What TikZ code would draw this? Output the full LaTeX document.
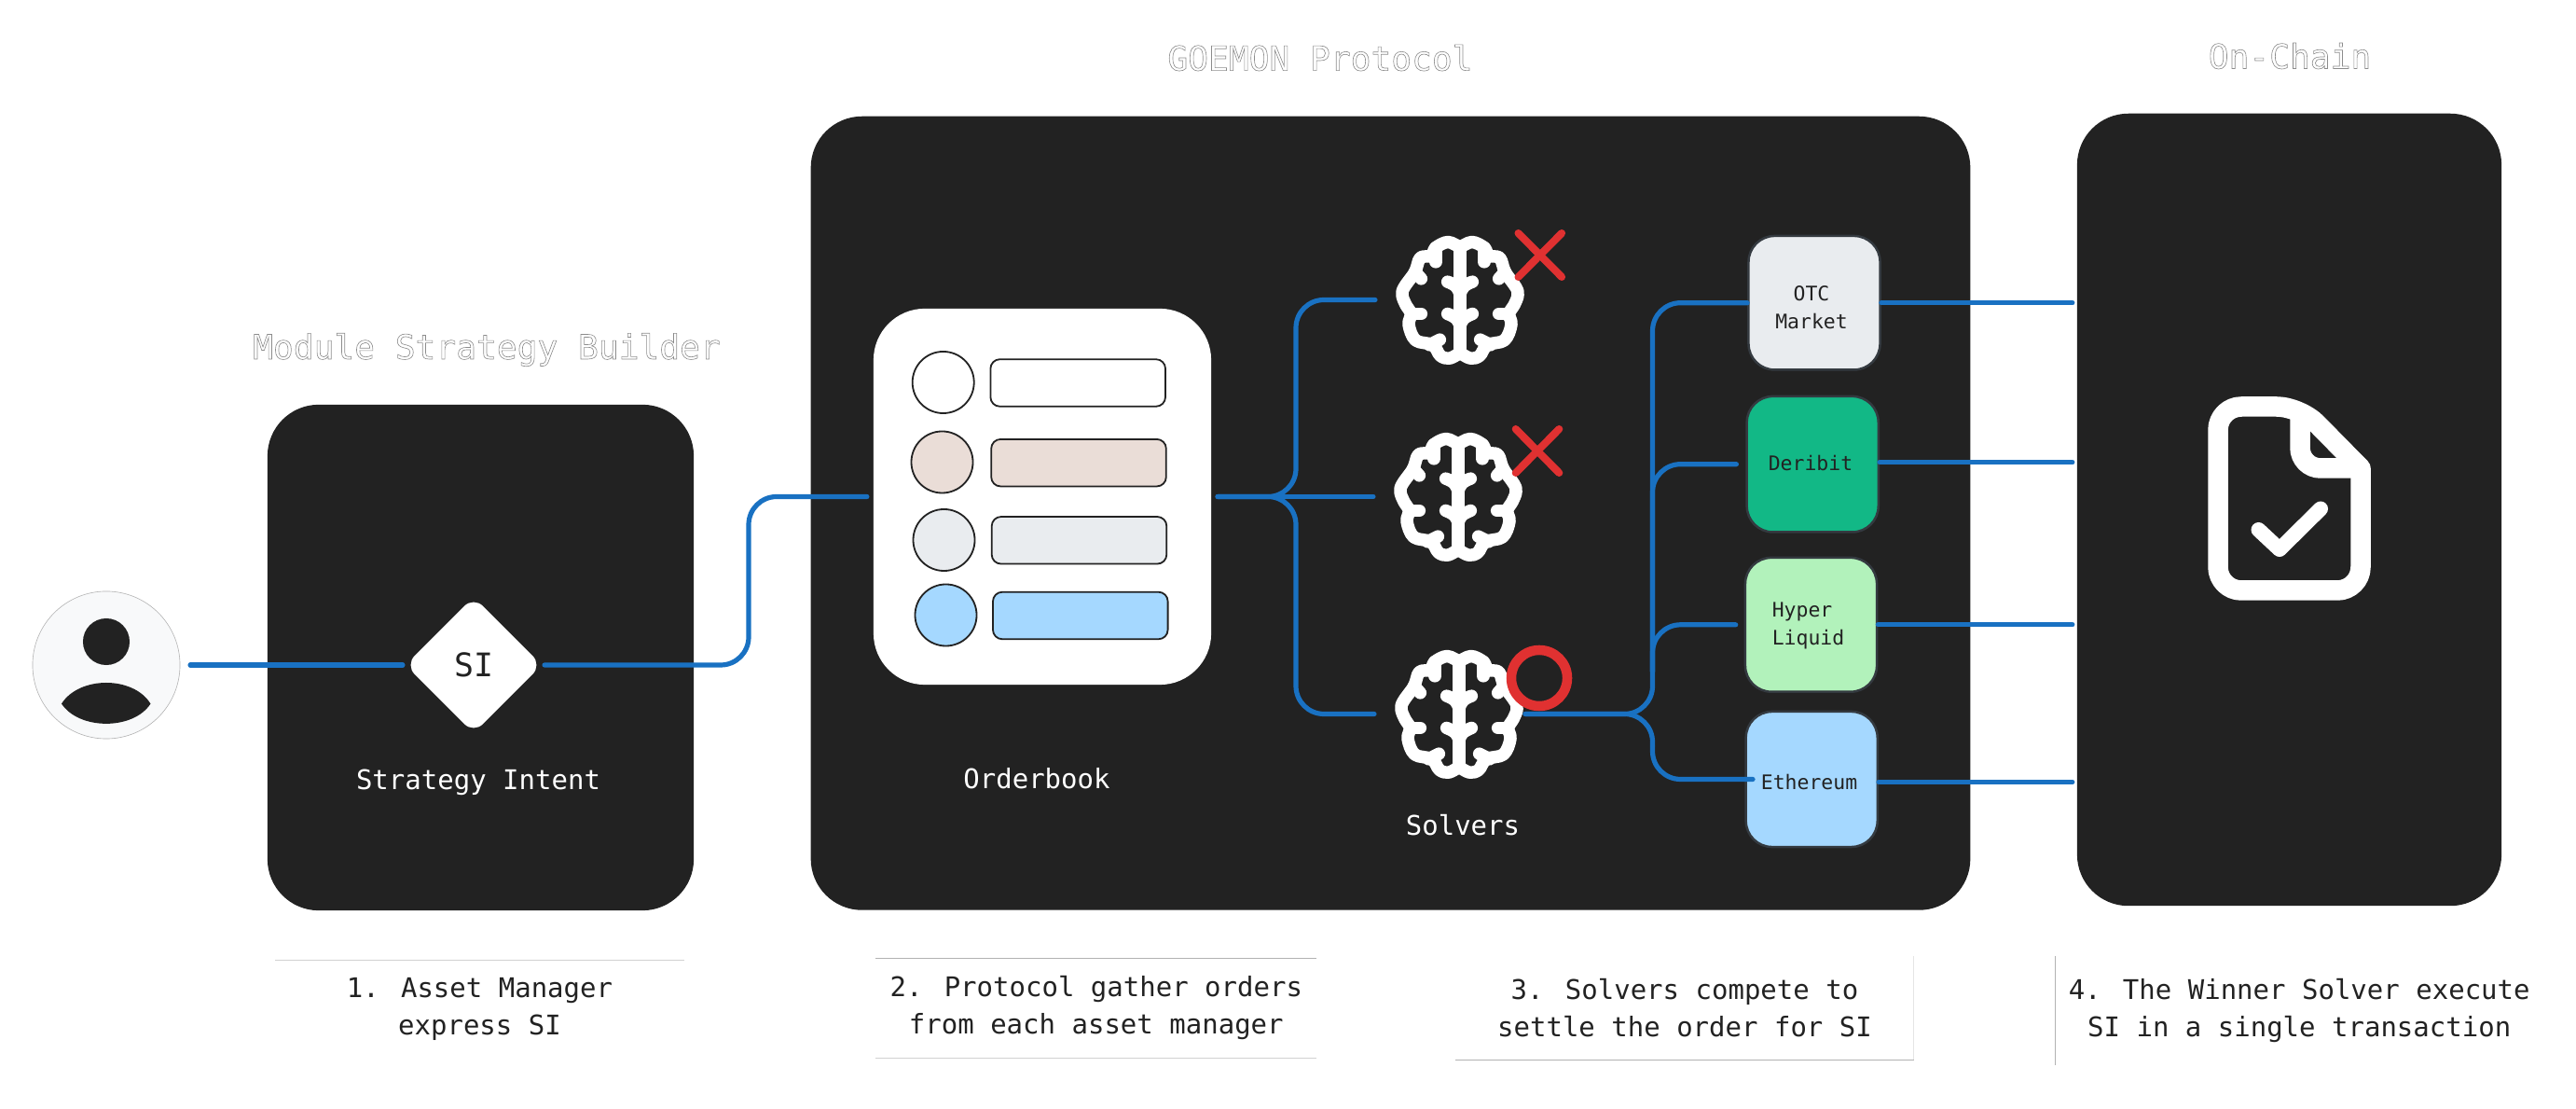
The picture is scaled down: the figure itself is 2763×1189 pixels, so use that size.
\documentclass[tikz,border=0pt]{standalone}
\usepackage{fontspec}
\setmainfont{DejaVu Sans Mono}
\usetikzlibrary{calc}
\usetikzlibrary{positioning, shapes}

\definecolor{inkdark}{HTML}{222222}
\definecolor{wireblue}{HTML}{1971C2}
\definecolor{rejectred}{HTML}{E03131}
\definecolor{venueedge}{HTML}{343A40}
\definecolor{tonerose}{HTML}{EADDD7}
\definecolor{tonegrey}{HTML}{E9ECEF}
\definecolor{tonesky}{HTML}{A5D8FF}
\definecolor{tonegreen}{HTML}{12B886}
\definecolor{tonemint}{HTML}{B2F2BB}
\definecolor{userback}{HTML}{F8F9FA}

\newcommand{\outlinetext}[1]{\special{pdf:code 1 Tr 0.18 w 0.55 G}#1\special{pdf:code 0 Tr}}

\tikzset{
  panel/.style={fill=inkdark,rounded corners=0.55cm,inner sep=0pt},
  wire/.style={draw=wireblue,line width=0.052cm,line cap=round,rounded corners=0.3cm},
  headline/.style={font=\fontsize{10.3}{12}\selectfont,inner sep=0pt},
  paneltext/.style={font=\fontsize{8.25}{10}\selectfont,text=white,inner sep=0pt},
  caption/.style={font=\fontsize{8.25}{11.38}\selectfont,text=inkdark,align=center,inner sep=0pt},
  capline/.style={draw=black!30,line width=0.01cm},
  rowdot/.style={circle,draw=inkdark,line width=0.018cm,minimum size=0.66cm,inner sep=0pt},
  rowbar/.style={draw=inkdark,line width=0.018cm,rounded corners=0.1cm,minimum width=1.875cm,minimum height=0.505cm,inner sep=0pt},
  venue/.style={draw=venueedge,line width=0.025cm,rounded corners=0.28cm,minimum width=1.41cm,inner sep=0pt},
  venuetext/.style={font=\fontsize{6.1}{8.5}\selectfont,text=inkdark,inner sep=0pt},
  solverspot/.style={minimum width=1.38cm,minimum height=1.38cm,inner sep=0pt,outer sep=0.22cm},
  brainline/.style={draw=white,line width=0.135cm,line cap=round,line join=round},
  crossline/.style={draw=rejectred,line width=0.08cm,line cap=round},
  pics/brainicon/.style={code={
    \foreach \flip in {1,-1} {
      \begin{scope}[xscale=\flip*0.3333,yscale=0.3333]
        \draw [brainline] plot [smooth,tension=0.6] coordinates {(0,-168) (-38,-186) (-78,-168) (-93,-142) (-128,-135) (-145,-90) (-180,-40) (-186,-15) (-175,15) (-158,45) (-165,80) (-143,130) (-88,145) (-63,180) (-33,188) (0,170)};
        \draw [brainline] (-78,-168) -- (-78,-122);
        \draw [brainline] (-145,-90) -- (-125,-68);
        \draw [brainline] (0,-10) .. controls (0,-35) and (-15,-50) .. (-40,-58);
        \draw [brainline] (0,92) .. controls (0,65) and (-15,55) .. (-40,45);
        \draw [brainline] (-158,45) -- (-125,45);
        \draw [brainline] (-98,145) -- (-65,128);
      \end{scope}
    }
    \draw [brainline] (0,-56) -- (0,57);
  }},
  pics/crossmark/.style={code={
    \draw [crossline] (-23.3,-23.5) -- (23.3,23.5);
    \draw [crossline] (-23.3,23.5) -- (23.3,-23.5);
  }}
}

\begin{document}
\begin{tikzpicture}[x=0.01cm,y=-0.01cm]
\useasboundingbox (0,0) rectangle (2763,1189);

\node [headline] (titlebuilder) at (522,375) {\outlinetext{Module Strategy Builder}};
\node [headline] (titleprotocol) at (1416,62) {\outlinetext{GOEMON Protocol}};
\node [headline] (titlechain) at (2456,60) {\outlinetext{On-Chain}};

\node [panel,minimum width=4.57cm,minimum height=5.42cm] (builder) at (515.5,705) {};
\node [panel,minimum width=12.43cm,minimum height=8.505cm] (protocol) at (1491.5,550.25) {};
\node [panel,minimum width=4.55cm,minimum height=8.49cm,outer sep=0.05cm] (chain) at (2455.5,546.5) {};

\node [circle,fill=userback,draw=black!30,line width=0.006cm,minimum size=1.58cm,inner sep=0pt,outer sep=0.11cm] (user) at (114,713) {};
\fill [inkdark] (114,688) circle [radius=0.25cm];
\fill [inkdark] (66,754.5) .. controls (85,724.5) and (143,724.5) .. (161.5,754.5) .. controls (143,783) and (85,783) .. (66,754.5) -- cycle;

\node [diamond,fill=white,rounded corners=0.14cm,minimum width=1.48cm,minimum height=1.48cm,inner sep=0pt,outer sep=0.02cm,font=\fontsize{9.9}{12}\selectfont,text=inkdark] (si) at (508,713) {SI};
\node [paneltext] (sitext) at (513,839) {Strategy Intent};

\node [fill=white,rounded corners=0.55cm,minimum width=3.62cm,minimum height=4.03cm,inner sep=0pt,outer sep=0.07cm] (book) at (1118,532.5) {};
\foreach \n/\dx/\dy/\bx/\by/\tone in {a/1011.7/410/1156.2/410.5/white,b/1010.5/495.5/1157/496.2/tonerose,c/1012.5/579/1157.5/579.3/tonegrey,d/1014.5/659.5/1158.8/660/tonesky} {
  \node [rowdot,fill=\tone] (dot\n) at (\dx,\dy) {};
  \node [rowbar,fill=\tone] (bar\n) at (\bx,\by) {};
}
\node [paneltext] (booktext) at (1112,835) {Orderbook};

\node [solverspot] (solverA) at (1566,321.5) {};
\node [solverspot] (solverB) at (1564,532.5) {};
\node [solverspot] (solverC) at (1565,765.5) {};
\pic at (solverA) {brainicon};
\pic at (solverB) {brainicon};
\pic at (solverC) {brainicon};
\pic at (1651.8,273.5) {crossmark};
\pic at (1649,483.5) {crossmark};
\node [circle,draw=rejectred,line width=0.105cm,minimum size=0.6cm,inner sep=0pt] (winner) at (1651,727) {};
\node [paneltext] (solvertext) at (1569,885) {Solvers};

\node [venue,fill=tonegrey,minimum height=1.434cm] (otc) at (1946,324.7) {};
\node [venue,fill=tonegreen,minimum height=1.455cm] (deribit) at (1944.2,497.7) {};
\node [venue,fill=tonemint,minimum height=1.437cm] (hyper) at (1942.5,669.8) {};
\node [venue,fill=tonesky,minimum height=1.45cm] (eth) at (1943.2,835.5) {};
\node [venuetext,align=center] (otctext) at (1943,330) {OTC\\Market};
\node [venuetext] (deribittext) at (1942,496.4) {Deribit};
\node [venuetext,align=left] (hypertext) at (1939.5,671) {Hyper\\Liquid};
\node [venuetext] (ethtext) at (1940.5,838.6) {Ethereum};

\coordinate (jog) at (803,620);
\coordinate (railup) at (1390,430);
\coordinate (raildown) at (1390,650);
\coordinate (solverout) at (1636,765.5);
\coordinate (railB) at (1772.5,720);
\coordinate (railC) at (1772.5,800);
\coordinate (ethin) at (1880,835.5);
\coordinate (ethout) at (2015,838.5);

\draw [wire] (user) -- (si);
\draw [wire] (si) -| (jog) |- (book);
\draw [wire] (book) -- (solverB);
\draw [wire] (book) -| (railup) |- (solverA);
\draw [wire] (book) -| (raildown) |- (solverC);
\draw [wire] (solverout) -| (railB);
\draw [wire] (railB) |- (otc);
\draw [wire] (railB) |- ([xshift=-0.1cm]deribit.west);
\draw [wire] (railB) |- ([xshift=-0.09cm]hyper.west);
\draw [wire] (solverout) -| (railC);
\draw [wire] (railC) |- (ethin);
\draw [wire] (otc.east) -- (otc.east -| chain.west);
\draw [wire] ([yshift=0.02cm]deribit.east) -- ([yshift=0.02cm]deribit.east -| chain.west);
\draw [wire] (hyper.east) -- (hyper.east -| chain.west);
\draw [wire] (ethout) -- (ethout -| chain.west);

\draw [white,line width=0.215cm,line join=round] (2532,502) [rounded corners=0.25cm] -- (2532,633) -- (2379,633) -- (2379,436) -- (2467,436) [sharp corners] -- cycle;
\draw [white,line width=0.215cm,rounded corners=0.22cm] (2467,436) -- (2467,502) -- (2532,502);
\draw [white,line width=0.16cm,line cap=round,line join=round] (2422.5,568) -- (2445,589) -- (2489,545.5);

\node [caption,minimum width=4.365cm,minimum height=1.03cm] (capA) at (514.5,1081.5) {1. Asset Manager\\express SI};
\node [caption,minimum width=4.71cm,minimum height=1.06cm] (capB) at (1175.8,1081) {2. Protocol gather orders\\from each asset manager};
\node [caption,minimum width=4.9cm,minimum height=1.1cm] (capC) at (1807,1080.5) {3. Solvers compete to\\settle the order for SI};
\node [caption,minimum width=5.215cm,minimum height=1.157cm] (capD) at (2466.2,1083.5) {4. The Winner Solver execute\\SI in a single transaction};
\draw [capline,draw=black!18] (capA.north west) -- (capA.north east);
\draw [capline] (capB.north west) -- (capB.north east);
\draw [capline,draw=black!18] (capB.south west) -- (capB.south east);
\draw [capline] (capC.south west) -- (capC.south east);
\draw [capline,draw=black!10] (capC.south east) -- (capC.north east);
\draw [capline] (capD.north west) -- (capD.south west);
\end{tikzpicture}
\end{document}
